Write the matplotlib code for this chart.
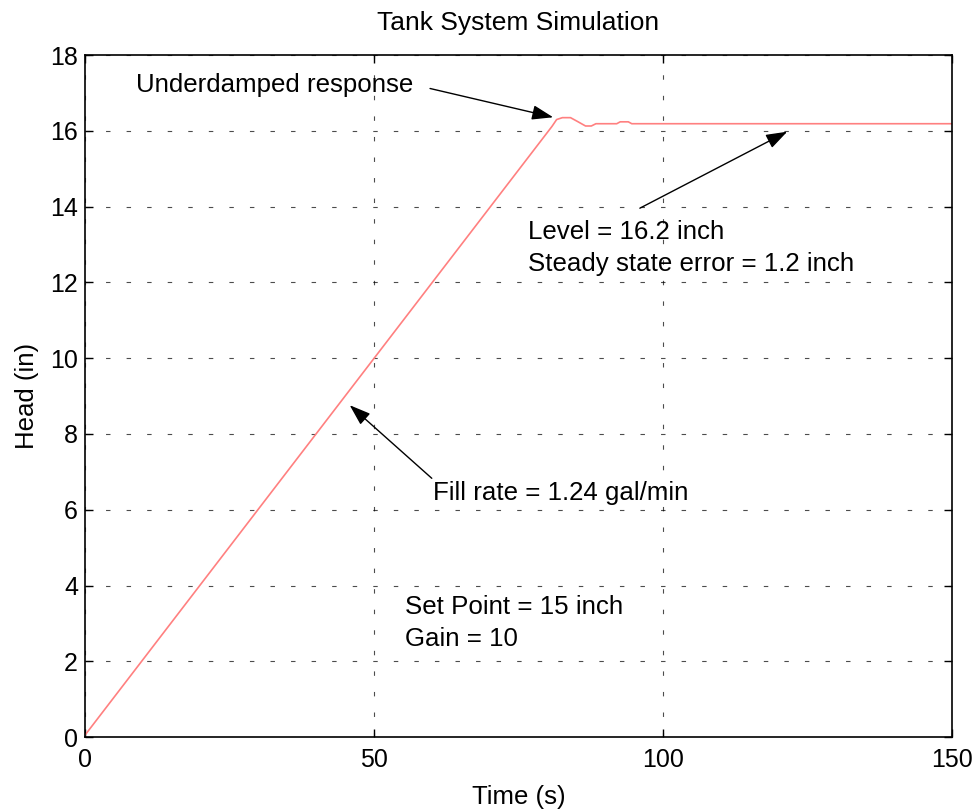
import matplotlib
matplotlib.use("Agg")
import matplotlib.pyplot as plt

plt.rcParams['font.family'] = ['Liberation Sans', 'DejaVu Sans']

# Tank head response
time_s = [0, 80.8, 81.6, 82.6, 84.0, 85.2, 86.6, 87.6, 88.4, 92.0, 92.6, 94.0, 94.6, 150]
head_in = [0.05, 16.12, 16.3, 16.35, 16.35, 16.25, 16.13, 16.13, 16.19, 16.19, 16.24, 16.24, 16.19, 16.19]

x_ticks = [0, 50, 100, 150]
y_ticks = list(range(0, 19, 2))

fig = plt.figure(figsize=(9.79, 8.11), dpi=100)
ax = fig.add_axes([0.0868, 0.0912, 0.8856, 0.8408])

ax.plot(time_s, head_in, color='#ff8080', linewidth=1.2)

ax.set_xlim(0, 150)
ax.set_ylim(0, 18)
ax.set_xticks(x_ticks)
ax.set_yticks(y_ticks)
ax.tick_params(direction='in', top=True, right=True, labelsize=18, length=6, width=1, pad=5)
ax.tick_params(axis='x', pad=8)
for s in ax.spines.values():
    s.set_linewidth(1.2)
ax.grid(True, color='black', linestyle=(0, (4, 14.5)), linewidth=0.8, alpha=0.7)

ax.set_title('Tank System Simulation', fontsize=19, pad=18)
ax.set_xlabel('Time (s)', fontsize=18.5, labelpad=9)
ax.set_ylabel('Head (in)', fontsize=18.5, labelpad=8)

fs = 18.6
arrow = dict(arrowstyle='-|>,head_length=1.3,head_width=0.45', color='black', lw=1, shrinkA=0, shrinkB=0)
ax.annotate('', xy=(81, 16.36), xytext=(59.7, 17.12), arrowprops=arrow)
ax.text(8.8, 17.2, 'Underdamped response', fontsize=fs, va='center')

ax.annotate('', xy=(121.5, 15.98), xytext=(96, 13.96), arrowprops=arrow)
ax.text(76.6, 13.34, 'Level = 16.2 inch', fontsize=fs, va='center')
ax.text(76.6, 12.5, 'Steady state error = 1.2 inch', fontsize=fs, va='center')

ax.annotate('', xy=(45.8, 8.76), xytext=(60.0, 6.83), arrowprops=arrow)
ax.text(60.2, 6.44, 'Fill rate = 1.24 gal/min', fontsize=fs, va='center')

ax.text(55.4, 3.42, 'Set Point = 15 inch', fontsize=fs, va='center')
ax.text(55.4, 2.6, 'Gain = 10', fontsize=fs, va='center')

fig.savefig('out.png', dpi=100)
